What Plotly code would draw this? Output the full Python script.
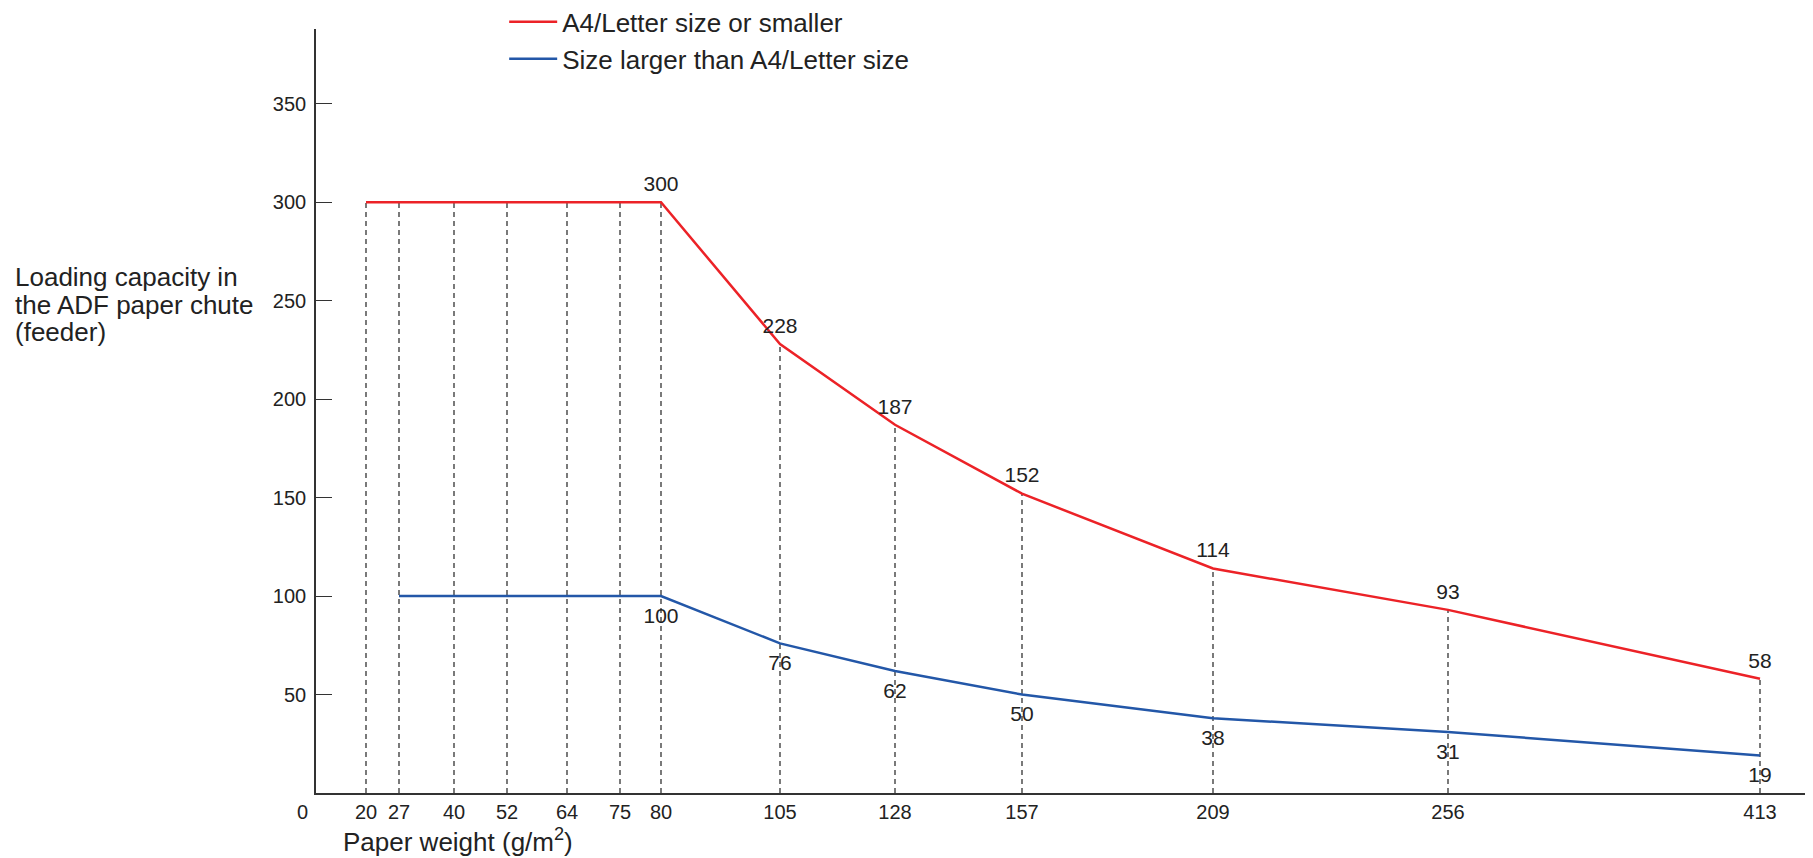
import plotly.graph_objects as go

# data
weights = [20, 27, 40, 52, 64, 75, 80, 105, 128, 157, 209, 256, 413]
a4_or_smaller = [300, 300, 300, 300, 300, 300, 300, 228, 187, 152, 114, 93, 58]
larger_than_a4 = [None, 100, 100, 100, 100, 100, 100, 76, 62, 50, 38, 31, 19]
y_ticks = [50, 100, 150, 200, 250, 300, 350]

# the x axis in the original is not to scale: place each weight where the drawing puts it
axis_pos = dict(zip(weights, [50, 83, 138, 191, 251, 304, 345, 464, 579, 706, 897, 1132, 1444]))
xs = [axis_pos[w] for w in weights]

RED = "#ec2227"
BLUE = "#2357a8"
INK = "#222222"
FONT = "Liberation Sans, Arial, sans-serif"

fig = go.Figure()

# dashed drop lines from each point of the upper curve to the axis
drop_x, drop_y = [], []
for x, v in zip(xs, a4_or_smaller):
    drop_x += [x, x, None]
    drop_y += [0, v, None]
fig.add_trace(go.Scatter(x=drop_x, y=drop_y, mode="lines", showlegend=False,
                         line=dict(color="#333333", width=1.3, dash="5px,4px"),
                         hoverinfo="skip"))

red_text = [str(v) if i >= 6 else "" for i, v in enumerate(a4_or_smaller)]
fig.add_trace(go.Scatter(x=xs, y=a4_or_smaller, mode="lines+markers+text", name="A4/Letter size or smaller",
                         line=dict(color=RED, width=2.5), marker=dict(size=8, color="rgba(0,0,0,0)"),
                         text=red_text, textposition="top center",
                         textfont=dict(size=21, color=INK, family=FONT)))

blue_text = [str(v) if (i >= 6 and v is not None) else "" for i, v in enumerate(larger_than_a4)]
fig.add_trace(go.Scatter(x=xs, y=larger_than_a4, mode="lines+markers+text", name="Size larger than A4/Letter size",
                         line=dict(color=BLUE, width=2.5), marker=dict(size=16, color="rgba(0,0,0,0)"),
                         text=blue_text, textposition="bottom center",
                         textfont=dict(size=21, color=INK, family=FONT)))

axis_common = dict(showline=True, linecolor="#333333", linewidth=1.6, showgrid=False, zeroline=False,
                   tickfont=dict(size=20, color=INK, family=FONT))

fig.update_xaxes(range=[0, 1497], tickmode="array", tickvals=xs, ticktext=[str(w) for w in weights],
                 ticks="", **axis_common)
fig.update_yaxes(range=[0, 388], tickmode="array", tickvals=y_ticks, ticks="inside", ticklen=16,
                 tickcolor="#333333", tickwidth=1.4, ticklabelstandoff=4, **axis_common)

annotations = [
    dict(x=0, y=0, xref="x", yref="y", text="0", showarrow=False, xanchor="center", yanchor="top",
         xshift=-14, yshift=-6, font=dict(size=20, color=INK, family=FONT)),
    dict(x=25, y=0, xref="x", yref="y", text="Paper weight (g/m<sup>2</sup>)", showarrow=False,
         xanchor="left", yanchor="middle", yshift=-47, font=dict(size=26, color=INK, family=FONT)),
]
for line, ypix in zip(["Loading capacity in", "the ADF paper chute", "(feeder)"], [277, 305, 332]):
    annotations.append(dict(x=0, y=(793 - ypix) / 1.969, xref="paper", yref="y", text=line,
                            showarrow=False, xanchor="left", yanchor="middle", xshift=-303,
                            font=dict(size=26, color=INK, family=FONT)))

# the page body has an 8px margin, so the figure is 8px smaller than the window
fig.update_layout(
    width=1805, height=850,
    margin=dict(l=308, r=0, t=21, b=65, autoexpand=False),
    paper_bgcolor="white", plot_bgcolor="white",
    font=dict(family=FONT, color=INK),
    legend=dict(x=0.1257, y=1.04, xanchor="left", yanchor="top", bgcolor="rgba(0,0,0,0)",
                itemwidth=48, font=dict(size=26, color=INK, family=FONT), tracegroupgap=0),
    annotations=annotations,
    hovermode=False,
)

fig.write_html("out.html")
